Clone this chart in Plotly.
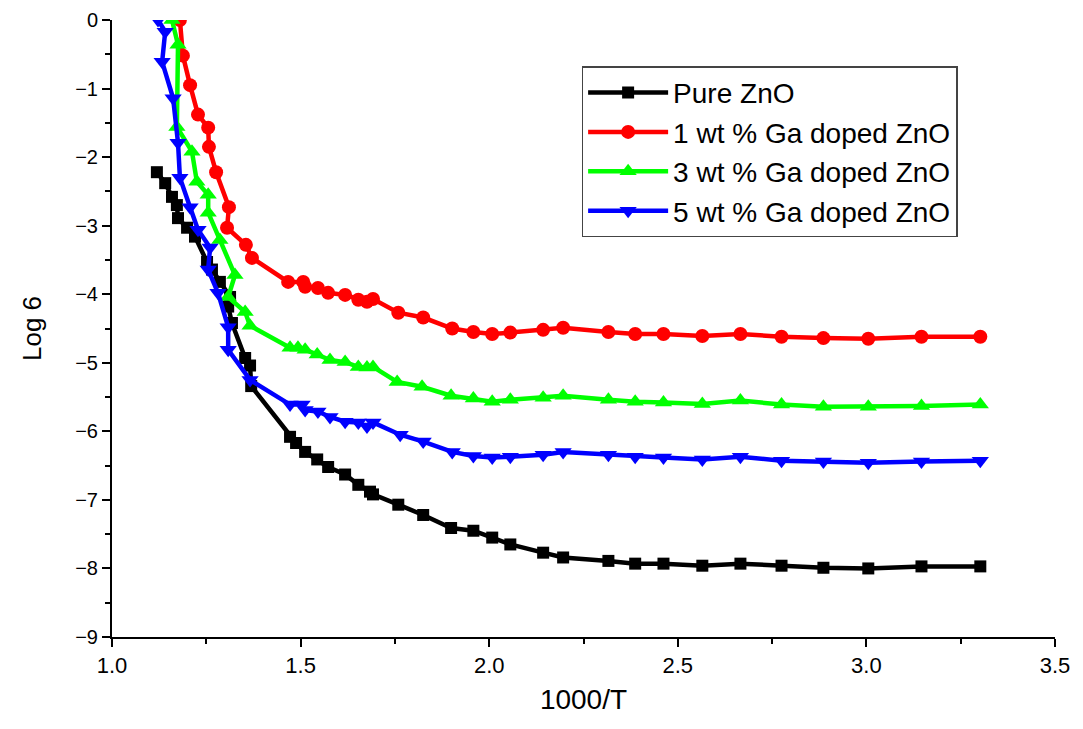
import plotly.graph_objects as go

# 1000/T and log(sigma)
x_pure = [1.119, 1.141, 1.159, 1.172, 1.175, 1.199, 1.220, 1.252, 1.265, 1.286, 1.313, 1.308,
          1.318, 1.353, 1.366, 1.369, 1.472, 1.488, 1.512, 1.544, 1.573, 1.618, 1.653, 1.684,
          1.692, 1.759, 1.825, 1.899, 1.958, 2.008, 2.056, 2.143, 2.196, 2.316, 2.387, 2.462,
          2.565, 2.666, 2.775, 2.886, 3.005, 3.146, 3.302]
y_pure = [-2.22, -2.38, -2.58, -2.70, -2.89, -3.03, -3.16, -3.53, -3.64, -3.82, -4.04, -4.18,
          -4.42, -4.93, -5.04, -5.34, -6.08, -6.17, -6.30, -6.41, -6.52, -6.63, -6.78, -6.88,
          -6.92, -7.07, -7.22, -7.41, -7.45, -7.55, -7.65, -7.77, -7.84, -7.89, -7.93, -7.93,
          -7.96, -7.93, -7.96, -7.99, -8.00, -7.97, -7.97]

x_ga1 = [1.180, 1.188, 1.207, 1.228, 1.255, 1.257, 1.276, 1.310, 1.305, 1.355, 1.371, 1.467,
         1.507, 1.512, 1.546, 1.573, 1.618, 1.653, 1.676, 1.692, 1.759, 1.825, 1.902, 1.958,
         2.008, 2.056, 2.143, 2.196, 2.316, 2.387, 2.462, 2.565, 2.666, 2.775, 2.886, 3.005,
         3.146, 3.302]
y_ga1 = [0.0, -0.52, -0.95, -1.38, -1.57, -1.85, -2.22, -2.73, -3.03, -3.28, -3.47, -3.82,
         -3.82, -3.89, -3.91, -3.98, -4.01, -4.08, -4.11, -4.07, -4.27, -4.34, -4.50, -4.55,
         -4.58, -4.56, -4.52, -4.49, -4.55, -4.58, -4.58, -4.61, -4.58, -4.62, -4.64, -4.65,
         -4.62, -4.62]

x_ga3 = [1.159, 1.175, 1.172, 1.212, 1.225, 1.255, 1.255, 1.286, 1.326, 1.308, 1.353, 1.366,
         1.472, 1.493, 1.512, 1.544, 1.578, 1.618, 1.653, 1.676, 1.692, 1.756, 1.822, 1.899,
         1.958, 2.008, 2.056, 2.143, 2.196, 2.316, 2.387, 2.462, 2.565, 2.666, 2.775, 2.886,
         3.005, 3.146, 3.302]
y_ga3 = [0.0, -0.36, -1.56, -1.92, -2.36, -2.55, -2.81, -3.21, -3.72, -4.04, -4.26, -4.46,
         -4.78, -4.78, -4.81, -4.88, -4.96, -4.99, -5.06, -5.07, -5.06, -5.28, -5.35, -5.48,
         -5.52, -5.57, -5.54, -5.51, -5.48, -5.54, -5.57, -5.58, -5.60, -5.55, -5.61, -5.64,
         -5.64, -5.63, -5.61]

x_ga5 = [1.122, 1.141, 1.133, 1.162, 1.175, 1.180, 1.207, 1.228, 1.260, 1.255, 1.281, 1.308,
         1.308, 1.366, 1.472, 1.504, 1.512, 1.546, 1.578, 1.618, 1.653, 1.676, 1.692, 1.764,
         1.825, 1.902, 1.958, 2.008, 2.056, 2.143, 2.196, 2.316, 2.387, 2.462, 2.565, 2.666,
         2.775, 2.886, 3.005, 3.146, 3.302]
y_ga5 = [0.0, -0.17, -0.61, -1.14, -1.79, -2.30, -2.73, -3.06, -3.32, -3.64, -3.98, -4.48,
         -4.81, -5.25, -5.61, -5.61, -5.69, -5.71, -5.79, -5.86, -5.87, -5.93, -5.87, -6.05,
         -6.15, -6.30, -6.36, -6.38, -6.37, -6.34, -6.30, -6.34, -6.37, -6.38, -6.41, -6.37,
         -6.43, -6.44, -6.46, -6.44, -6.43]

series = [
    ("Pure ZnO", x_pure, y_pure, "#000000", "square", 12),
    ("1 wt % Ga doped ZnO", x_ga1, y_ga1, "#ff0000", "circle", 14),
    ("3 wt % Ga doped ZnO", x_ga3, y_ga3, "#00ff00", "triangle-up", 15),
    ("5 wt % Ga doped ZnO", x_ga5, y_ga5, "#0000ff", "triangle-down", 15),
]

fig = go.Figure()
for name, xs, ys, col, sym, sz in series:
    fig.add_trace(go.Scatter(x=xs, y=ys, name=name, mode="lines+markers",
                             line=dict(color=col, width=4.5),
                             marker=dict(symbol=sym, size=sz, color=col)))

font_name = "Liberation Sans, Arial"

fig.update_xaxes(range=[1.0, 3.5], dtick=0.5, tickformat=".1f", automargin=False,
                 showline=True, linecolor="black", linewidth=2,
                 ticks="outside", ticklen=8, tickwidth=2, tickcolor="black",
                 minor=dict(dtick=0.25, ticks="outside", ticklen=5, tickwidth=2, tickcolor="black"),
                 showgrid=False, zeroline=False,
                 tickfont=dict(family=font_name, size=22, color="black"),
                 title=dict(text="1000/T", font=dict(family=font_name, size=28, color="black"),
                            standoff=12))
fig.update_yaxes(range=[-9, 0], dtick=1, automargin=False,
                 showline=True, linecolor="black", linewidth=2,
                 ticks="outside", ticklen=8, tickwidth=2, tickcolor="black",
                 minor=dict(dtick=0.5, ticks="outside", ticklen=5, tickwidth=2, tickcolor="black"),
                 showgrid=False, zeroline=False,
                 tickfont=dict(family=font_name, size=20, color="black"),
                 title=dict(text="Log 6", font=dict(family=font_name, size=26, color="black"),
                            standoff=26))

# page body has an 8px margin, so the figure is shrunk by that much
fig.update_layout(
    width=1075, height=721,
    margin=dict(l=104, r=28, t=12, b=92),
    plot_bgcolor="white", paper_bgcolor="white",
    legend=dict(x=0.498, y=0.925, xanchor="left", yanchor="top",
                bordercolor="#444444", borderwidth=1.5, bgcolor="white",
                font=dict(family=font_name, size=28, color="black"),
                itemwidth=80, tracegroupgap=0),
)

fig.write_html("out.html")
